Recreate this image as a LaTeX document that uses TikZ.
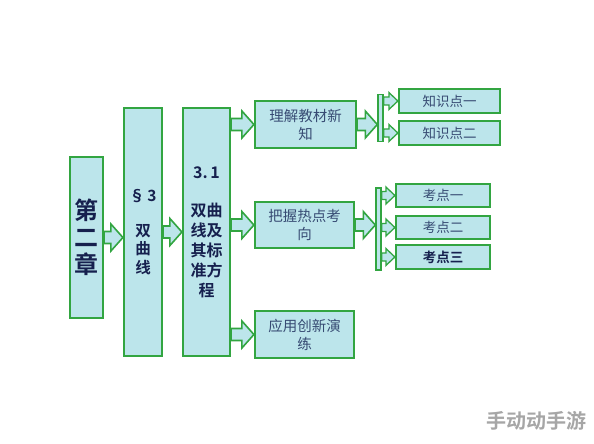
\documentclass[tikz,border=0pt]{standalone}
\usepackage{fontspec}
\setmainfont{Noto Sans CJK SC}
\newfontfamily\cjkbold{Noto Sans CJK SC Bold}
\usetikzlibrary{calc}
\definecolor{boxgreen}{RGB}{50,165,65}
\definecolor{boxfill}{RGB}{188,229,235}
\definecolor{txtblue}{RGB}{55,75,115}
\definecolor{darkblue}{RGB}{22,32,78}
\tikzset{
  box/.style={draw=boxgreen, line width=2.2pt, fill=boxfill, inner sep=0pt, align=center, text=txtblue},
  barbox/.style={draw=boxgreen, line width=1.4pt, fill=boxfill, inner sep=0pt},
  barrow/.style={draw=boxgreen, line width=1.6pt, fill=boxfill, line join=miter},
}
% big block arrow from #1 to #2 (same y as #1)
\newcommand\bigarrow[2]{%
  \draw[barrow] let \p1=(#1), \p2=(#2) in
    (\x1,\y1+6pt) -- (\x2-12pt,\y1+6pt) -- (\x2-12pt,\y1+13.5pt) -- (\x2,\y1)
    -- (\x2-12pt,\y1-13.5pt) -- (\x2-12pt,\y1-6pt) -- (\x1,\y1-6pt) -- cycle;}
\newcommand\smallarrow[2]{%
  \draw[barrow, line width=1.3pt] let \p1=(#1), \p2=(#2) in
    (\x1,\y1+4pt) -- (\x2-9pt,\y1+4pt) -- (\x2-9pt,\y1+8.5pt) -- (\x2,\y1)
    -- (\x2-9pt,\y1-8.5pt) -- (\x2-9pt,\y1-4pt) -- (\x1,\y1-4pt) -- cycle;}
\begin{document}
\begin{tikzpicture}[x=1pt,y=-1pt]
\useasboundingbox (0,0) rectangle (594,444);
\fill[white] (0,0) rectangle (594,444);

\node[box, minimum width=33pt, minimum height=161pt, text=darkblue,
      font=\cjkbold\fontsize{24}{27}\selectfont] (ch) at (86.5,237.5) {第\\二\\章};
\node[box, minimum width=38pt, minimum height=248pt, text=darkblue,
      font=\cjkbold\fontsize{15.5}{18.5}\selectfont] (s3) at (143,232) {§\,3\\[16pt]双\\曲\\线};
\node[box, minimum width=47pt, minimum height=248pt, text=darkblue,
      font=\cjkbold\fontsize{16}{20}\selectfont] (n31) at (206.5,232) {3.\,1\\[18pt]双曲\\线及\\其标\\准方\\程};

\node[box, minimum width=101pt, minimum height=47pt, font=\fontsize{14.5}{18}\selectfont] (lj) at (305.5,124.5) {理解教材新\\知};
\node[box, minimum width=99pt, minimum height=46pt, font=\fontsize{14.5}{18}\selectfont] (bw) at (304.5,225) {把握热点考\\向};
\node[box, minimum width=99pt, minimum height=47pt, font=\fontsize{14.5}{18}\selectfont] (yy) at (304.5,334.5) {应用创新演\\练};

\node[barbox, minimum width=5pt, minimum height=47pt] (bar1) at (380.5,118) {};
\node[barbox, minimum width=5pt, minimum height=82pt] (bar2) at (378.5,229) {};

\node[box, minimum width=101pt, minimum height=24pt, font=\fontsize{13.5}{16}\selectfont] (k1) at (449.5,101) {知识点一};
\node[box, minimum width=101pt, minimum height=24pt, font=\fontsize{13.5}{16}\selectfont] (k2) at (449.5,133) {知识点二};
\node[box, minimum width=94pt, minimum height=23pt, font=\fontsize{13.5}{16}\selectfont] (t1) at (443,195.5) {考点一};
\node[box, minimum width=94pt, minimum height=23pt, font=\fontsize{13.5}{16}\selectfont] (t2) at (443,227.5) {考点二};
\node[box, minimum width=94pt, minimum height=24pt, text=darkblue, font=\cjkbold\fontsize{13.5}{16}\selectfont] (t3) at (443,257) {考点三};

\bigarrow{ch.east}{s3.west}
\bigarrow{s3.east}{n31.west}
\bigarrow{n31.east |- lj.west}{lj.west}
\bigarrow{n31.east |- bw.west}{bw.west}
\bigarrow{n31.east |- yy.west}{yy.west}
\bigarrow{lj.east}{bar1.west}
\bigarrow{bw.east}{bar2.west}
\smallarrow{bar1.east |- k1.west}{k1.west}
\smallarrow{bar1.east |- k2.west}{k2.west}
\smallarrow{bar2.east |- t1.west}{t1.west}
\smallarrow{bar2.east |- t2.west}{t2.west}
\smallarrow{bar2.east |- t3.west}{t3.west}

\node[text=black!35, font=\cjkbold\fontsize{20}{22}\selectfont, anchor=east] (wm) at (590,421) {手动动手游};
\end{tikzpicture}
\end{document}
